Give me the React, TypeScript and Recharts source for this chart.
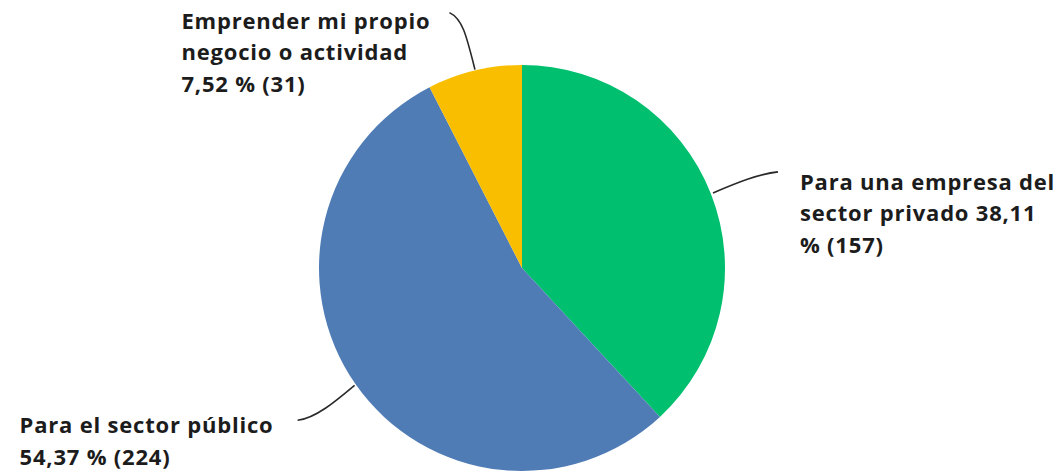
import React from "react";
import { PieChart, Pie, Cell } from "recharts";

const categories = [
  "Para una empresa del sector privado",
  "Para el sector público",
  "Emprender mi propio negocio o actividad",
];
const counts = [157, 224, 31];
const labelLines = [
  ["Para una empresa del", "sector privado 38,11", "% (157)"],
  ["Para el sector público", "54,37 % (224)"],
  ["Emprender mi propio", "negocio o actividad", "7,52 % (31)"],
];
const colors = ["#00BF6F", "#507CB6", "#F9BE00"];

const data = categories.map((name, i) => ({ name, value: counts[i], lines: labelLines[i] }));

// label layout (relative to slice edge point at mid-angle)
const labelLayout = [
  { tx: 89, ty: -4, path: (x: number, y: number) => `M${x + 2},${y - 1} C${x + 28},${y - 12} ${x + 48},${y - 20} ${x + 67},${y - 22}` },
  { tx: -336, ty: 49, path: (x: number, y: number) => `M${x - 1},${y + 1} C${x - 20},${y + 17} ${x - 40},${y + 34} ${x - 58},${y + 36}` },
  { tx: -293, ty: -42, path: (x: number, y: number) => `M${x + 0.5},${y - 1} C${x - 8},${y - 35} ${x - 12},${y - 52} ${x - 25},${y - 58}` },
];

const RAD = Math.PI / 180;

const renderLabel = (props: any) => {
  const { cx, cy, midAngle, outerRadius, index } = props;
  const x = cx + outerRadius * Math.cos(-midAngle * RAD);
  const y = cy + outerRadius * Math.sin(-midAngle * RAD);
  const l = labelLayout[index];
  const lines = data[index].lines;
  return (
    <g key={`lbl-${index}`}>
      <path d={l.path(x, y)} stroke="#2a2a2a" strokeWidth={1.6} fill="none" />
      <text
        x={x + l.tx}
        y={y + l.ty}
        fill="#1c1c1c"
        fontFamily="'Open Sans', sans-serif"
        fontWeight={700}
        fontSize={22}
        letterSpacing={0.8}
        textAnchor="start"
      >
        {lines.map((t: string, i: number) => (
          <tspan key={i} x={x + l.tx} dy={i === 0 ? 0 : 31.5}>
            {t}
          </tspan>
        ))}
      </text>
    </g>
  );
};

export default function App() {
  return (
    <div style={{ position: "absolute", left: 0, top: 0, width: 1059, height: 474, background: "#fff" }}>
      <PieChart width={1059} height={474}>
        <Pie
          data={data}
          dataKey="value"
          nameKey="name"
          cx={517}
          cy={263}
          outerRadius={203}
          startAngle={90}
          endAngle={-270}
          stroke="none"
          isAnimationActive={false}
          label={renderLabel}
          labelLine={false}
        >
          {data.map((d, i) => (
            <Cell key={d.name} fill={colors[i]} />
          ))}
        </Pie>
      </PieChart>
    </div>
  );
}
